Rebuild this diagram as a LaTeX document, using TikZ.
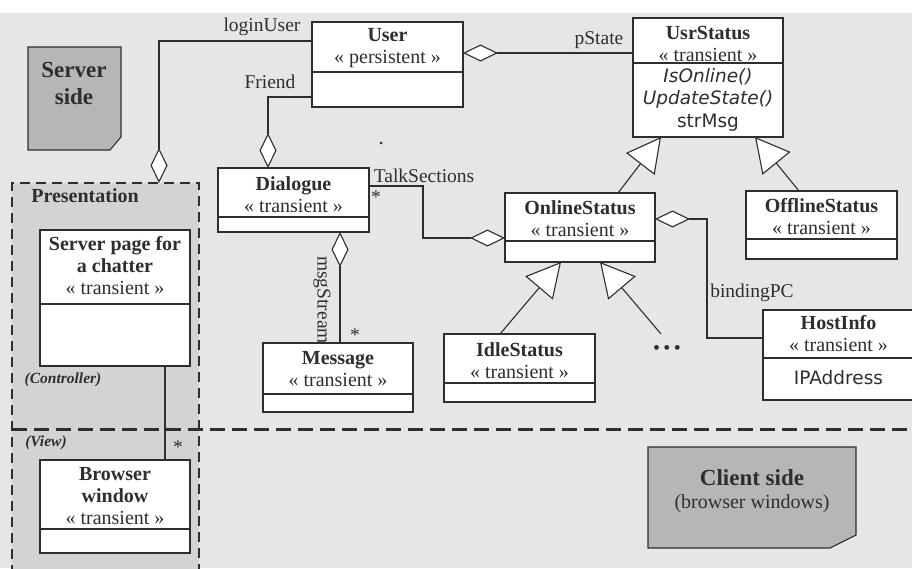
\documentclass[tikz,border=0pt]{standalone}
\usepackage{fontspec}
\setmainfont{Liberation Serif}
\newfontfamily\sansf{DejaVu Sans}
\usetikzlibrary{arrows.meta}
\definecolor{bg}{HTML}{E6E6E6}
\definecolor{presbg}{HTML}{D3D3D3}
\definecolor{notegray}{HTML}{B6B6B6}
\definecolor{ink}{HTML}{2E2E2E}
\tikzset{
  odia/.tip={Diamond[length=35pt,width=17pt,fill=white]},
  gen/.tip={Triangle[length=34pt,width=36pt,fill=white]},
  box/.style={draw=ink, fill=white, line width=1.2pt, inner sep=0pt, outer sep=0pt},
  boxline/.style={draw=ink, line width=1.2pt},
  conn/.style={draw=ink, line width=1.1pt},
  txt/.style={text=ink, inner sep=0pt, align=center, font=\fontsize{20}{22}\selectfont},
  stxt/.style={text=ink, inner sep=0pt, align=center, font=\sansf\fontsize{18.5}{22.5}\selectfont},
  lbl/.style={text=ink, inner sep=0pt, font=\fontsize{19.5}{22}\selectfont},
  star/.style={text=ink, inner sep=0pt, font=\fontsize{19.5}{22}\selectfont, text height=8pt, text depth=0pt},
  notestyle/.style={fill=notegray, draw=ink, line width=1.1pt},
  thindash/.style={draw=ink, line width=2pt, dash pattern=on 10pt off 6pt},
  bigdash/.style={draw=ink, line width=3pt, dash pattern=on 15pt off 7pt},
}
\newcommand\clsbox[6]{%
  \node[box, minimum width=#4-#2, minimum height=#5-#3] (#1) at ({(#2+#4)/2},{(#3+#5)/2}) {};
  \draw[boxline] (#2,#6) -- (#4,#6);}
\begin{document}
\begin{tikzpicture}[x=1pt,y=-1pt]
\useasboundingbox (0,0) rectangle (912,568);
\clip (0,0) rectangle (912,568);
\fill[white] (0,0) rectangle (912,568);
\fill[bg] (0,13) rectangle (912,568);
% presentation region
\node[fill=presbg, inner sep=0pt, outer sep=0pt, minimum width=187, minimum height=392] (pres) at (105.5,379) {};
\draw[thindash] (12,575) -- (12,183) -- (199,183) -- (199,575);
\draw[bigdash] (12,429) -- (912,429);
% notes
\filldraw[notestyle] (28,47) -- (121,47) -- (121,137) -- (110,150) -- (28,150) -- cycle;
\node[txt, font=\bfseries\fontsize{23}{27}\selectfont] (serverside) at (74,83.5) {Server\\side};
\filldraw[notestyle] (648,447) -- (856,447) -- (856,535) -- (830,548) -- (648,548) -- cycle;
\node[txt, font=\bfseries\fontsize{23}{26}\selectfont] (clientside) at (752,478) {Client side};
\node[txt] (clientsub) at (752,504) {(browser windows)};
% classes
\clsbox{user}{312}{22}{463}{107}{72}
\clsbox{usrstatus}{633}{18}{783}{137}{63}
\clsbox{dialogue}{218}{168}{369}{232}{217}
\clsbox{message}{263}{343}{413}{412}{394}
\clsbox{online}{505}{193}{655}{262}{241}
\clsbox{offline}{746}{191}{897}{259}{239}
\clsbox{idle}{444}{334}{595}{402}{383}
\clsbox{hostinfo}{763}{310}{914}{400}{358}
\clsbox{serverpage}{40}{230}{190}{366}{304}
\clsbox{browser}{40}{460}{190}{553}{529}
% class texts
\node[txt] (userT) at ([yshift=-26.5pt]user.north) {\textbf{User}\\« persistent »};
\node[txt] (usrstatusT) at ([yshift=-26pt]usrstatus.north) {\textbf{UsrStatus}\\« transient »};
\node[stxt] (usrstatusM) at ([yshift=-81.5pt]usrstatus.north) {{\itshape IsOnline()}\\{\itshape UpdateState()}\\strMsg};
\node[txt] (dialogueT) at ([yshift=-26.5pt]dialogue.north) {\textbf{Dialogue}\\« transient »};
\node[txt] (messageT) at ([yshift=-26pt]message.north) {\textbf{Message}\\« transient »};
\node[txt] (onlineT) at ([yshift=-26pt]online.north) {\textbf{OnlineStatus}\\« transient »};
\node[txt] (offlineT) at ([yshift=-25.5pt]offline.north) {\textbf{OfflineStatus}\\« transient »};
\node[txt] (idleT) at ([yshift=-26.5pt]idle.north) {\textbf{IdleStatus}\\« transient »};
\node[txt] (hostinfoT) at ([yshift=-24pt]hostinfo.north) {\textbf{HostInfo}\\« transient »};
\node[stxt] (hostinfoM) at ([yshift=-68pt]hostinfo.north) {IPAddress};
\node[txt] (serverpageT) at ([yshift=-36pt]serverpage.north) {\textbf{Server page for}\\\textbf{a chatter}\\« transient »};
\node[txt] (browserT) at ([yshift=-36.5pt]browser.north) {\textbf{Browser}\\\textbf{window}\\« transient »};
% region labels
\node[txt, font=\bfseries\fontsize{20}{22}\selectfont] (presT) at (85,196) {Presentation};
\node[txt, font=\bfseries\itshape\fontsize{15.5}{18}\selectfont] (ctrlT) at (63,380) {(Controller)};
\node[txt, font=\bfseries\itshape\fontsize{15.5}{18}\selectfont] (viewT) at (46,443) {(View)};
% connectors
\draw[conn, odia-] ([xshift=53.5pt]pres.north) |- ([yshift=-19pt]user.north west);
\draw[conn, odia-] ([xshift=-25.5pt]dialogue.north) |- ([yshift=-75pt]user.north west);
\draw[conn, odia-] ([yshift=-31pt]user.north east) -- ([yshift=-35pt]usrstatus.north west);
\draw[conn, -odia] ([yshift=-18pt]dialogue.north east) -- ++(54,0) |- ([yshift=-45pt]online.north west);
\draw[conn, odia-] ([xshift=46.5pt]dialogue.south) -- ([xshift=46.5pt]dialogue.south |- message.north);
\draw[conn, odia-] ([yshift=-26pt]online.north east) -- ++(52,0) |- ([yshift=-28pt]hostinfo.north west);
\draw[conn, -gen] ([xshift=38pt]online.north) -- ([xshift=-47pt]usrstatus.south);
\draw[conn, -gen] ([xshift=-22.5pt]offline.north) -- ([xshift=47pt]usrstatus.south);
\draw[conn, -gen] ([xshift=-19.5pt]idle.north) -- ([xshift=-19pt]online.south);
\coordinate (dotsend) at (661,334);
\draw[conn, -gen] (dotsend) -- ([xshift=20pt]online.south);
\draw[conn] ([xshift=50pt]serverpage.south) -- ([xshift=50pt]browser.north);
\node[txt] (dots) at (667,350) {\textbullet\,\textbullet\,\textbullet};
% connector labels
\node[lbl] (lLogin) at (262,27) {loginUser};
\node[lbl] (lFriend) at (270,82) {Friend};
\node[lbl] (lPstate) at (599,40) {pState};
\node[lbl] (lTalk) at (424,176) {TalkSections};
\node[star] (sTalk) at (376,199) {*};
\node[lbl, rotate=-90] (lMsg) at (322,300) {msgStream};
\node[star] (sMsg) at (355,337) {*};
\node[lbl] (lBind) at (752,293) {bindingPC};
\node[star] (sBrowser) at (178,449) {*};
\fill[ink] (381,143) circle (1.5);
\end{tikzpicture}
\end{document}
